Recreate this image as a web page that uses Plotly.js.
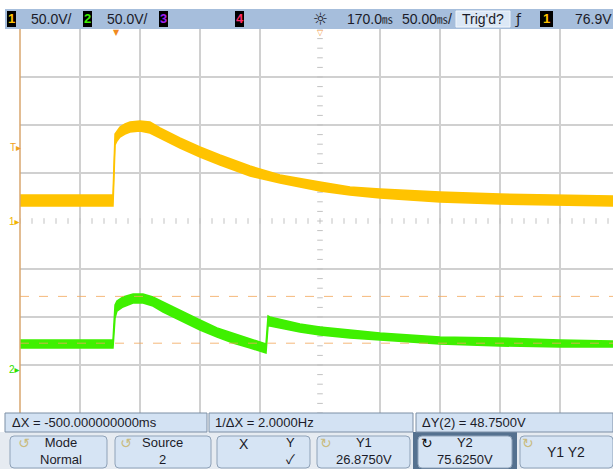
<!DOCTYPE html>
<html><head><meta charset="utf-8">
<script src="https://cdn.plot.ly/plotly-3.0.1.min.js"></script>
<style>html,body{margin:0;padding:0;background:#fff;overflow:hidden}#chart{width:613px;height:469px}</style>
</head><body><div id="chart"></div>
<script>
// ---- Data (time in ms, voltage in V) ----
// Channel 1 (yellow): noisy band, upper and lower envelope
const ch1Time = [-80, -2.5, -0.8, 0.8, 3.3, 7.5, 11.7, 20, 28.3, 36.7, 45, 53.3, 70, 86.7, 111.7, 136.7, 170, 195, 220, 270, 320, 370, 415];
const ch1Max  = [27.1, 27.1, 90.6, 93.8, 97.9, 101.0, 103.1, 104.2, 103.1, 96.9, 91.7, 86.5, 77.1, 68.8, 57.3, 47.9, 40.6, 35.4, 33.3, 30.2, 28.1, 27.1, 26.0];
const ch1Min  = [15.6, 15.6, 79.2, 83.3, 87.5, 90.6, 92.7, 93.8, 91.7, 86.5, 81.3, 76.0, 66.7, 58.3, 46.9, 39.6, 31.3, 27.1, 24.0, 19.8, 17.7, 16.7, 15.6];
// Channel 2 (green)
const ch2Time = [-80, -2.5, -0.8, 0.8, 5.8, 14.2, 22.5, 30.8, 39.2, 55.8, 70, 84.2, 97.5, 111.7, 125, 126.7, 128.3, 153.3, 170, 195, 220, 270, 320, 370, 415];
const ch2Max  = [30.2, 30.2, 66.7, 70.8, 75.0, 78.1, 78.1, 75.0, 69.8, 59.4, 51.0, 42.7, 37.5, 31.3, 26.0, 55.2, 54.2, 46.9, 43.8, 40.6, 37.5, 33.3, 32.3, 30.2, 29.2];
const ch2Min  = [21.9, 21.9, 53.1, 60.4, 64.6, 68.8, 68.8, 65.6, 59.4, 49.0, 40.6, 33.3, 27.1, 21.9, 16.7, 44.8, 44.8, 38.5, 35.4, 32.3, 30.2, 26.0, 24.0, 22.9, 22.9];
// Cursors on channel 2 and trigger level on channel 1
const cursorY1 = 26.875, cursorY2 = 75.625, trigLevel = 76.9;
// Scope settings
const voltsPerDiv = 50, timePerDiv = 50, delayMs = 170;
// Texts
const MS = '<span style="font-size:11px">㎳</span>';
const headerTexts = ["50.0V/", "50.0V/", "170.0" + MS, "50.00" + MS + "/", "Trig'd?", "76.9V"];
const readouts = ["ΔX = -500.000000000ms", "1/ΔX = 2.0000Hz", "ΔY(2) = 48.7500V"];
const softkeys = [["Mode", "Normal"], ["Source", "2"], ["X", "Y", "✓"], ["Y1", "26.8750V"], ["Y2", "75.6250V"], ["Y1 Y2"]];

// ---- Geometry (pixels) ----
const W = 613, H = 469, L = 20, T = 29, PW = 593, PH = 384;
const divX = 60, divY = 48, gnd2 = 369;
function X(px) { return (px - L) / PW; }
function Y(py) { return (T + PH - py) / PH; }
const xMin = delayMs - 5 * timePerDiv;
const xMax = xMin + PW / divX * timePerDiv;
const y1Top = (PH / 2) / divY * voltsPerDiv;
const y2Top = (gnd2 - T) / divY * voltsPerDiv, y2Bot = -(T + PH - gnd2) / divY * voltsPerDiv;

const yellow = '#ffc300', green = '#3ff000', orange = '#f2a85a';
const FONT = 'Liberation Sans, Noto Sans CJK JP, DejaVu Sans, sans-serif';

const gridX = []; for (let k = 1; k <= 9; k++) { const t = xMin + k * timePerDiv; if (t !== delayMs) gridX.push(t); }
const gridY = []; for (let k = -3; k <= 3; k++) { if (k !== 0) gridY.push(k * voltsPerDiv); }
// center-axis tick marks (5 per division)
const tickHx = [], tickHy = [], tickVx = [], tickVy = [];
for (let k = 0; k <= 50; k++) { tickHx.push(xMin + k * timePerDiv / 5); tickHy.push(0); }
for (let k = 0; k <= 40; k++) { tickVx.push(delayMs); tickVy.push(-y1Top + k * voltsPerDiv / 5); }

const traces = [
  {x: tickHx, y: tickHy, mode: 'markers', marker: {symbol: 'line-ns', size: 4, line: {width: 1, color: '#c2c2c2'}}, hoverinfo: 'skip', showlegend: false},
  {x: tickVx, y: tickVy, mode: 'markers', marker: {symbol: 'line-ew', size: 4, line: {width: 1, color: '#c2c2c2'}}, hoverinfo: 'skip', showlegend: false},
  {x: ch1Time, y: ch1Min, mode: 'lines', line: {color: yellow, width: 1.5}, showlegend: false},
  {x: ch1Time, y: ch1Max, mode: 'lines', line: {color: yellow, width: 1.5}, fill: 'tonexty', fillcolor: yellow, showlegend: false},
  {x: ch2Time, y: ch2Min, yaxis: 'y2', mode: 'lines', line: {color: green, width: 1.5}, showlegend: false},
  {x: ch2Time, y: ch2Max, yaxis: 'y2', mode: 'lines', line: {color: green, width: 1.5}, fill: 'tonexty', fillcolor: green, showlegend: false},
  {x: [xMin, xMax], y: [cursorY1, cursorY1], yaxis: 'y2', mode: 'lines', line: {color: orange, width: 1, dash: '9px,10px'}, opacity: 0.8, showlegend: false},
  {x: [xMin, xMax], y: [cursorY2, cursorY2], yaxis: 'y2', mode: 'lines', line: {color: orange, width: 1, dash: '9px,10px'}, opacity: 0.8, showlegend: false}
];

function rr(x0, y0, x1, y1, r) {
  const a = X(x0), b = X(x1), c = Y(y0), d = Y(y1), rx = r / PW, ry = r / PH;
  return `M${a+rx},${c} L${b-rx},${c} Q${b},${c} ${b},${c-ry} L${b},${d+ry} Q${b},${d} ${b-rx},${d} L${a+rx},${d} Q${a},${d} ${a},${d+ry} L${a},${c-ry} Q${a},${c} ${a+rx},${c} Z`;
}
function rect(x0, y0, x1, y1, fill, line, lw) {
  return {type: 'rect', xref: 'paper', yref: 'paper', x0: X(x0), x1: X(x1), y0: Y(y1), y1: Y(y0), fillcolor: fill, line: {color: line || fill, width: lw || 0}};
}
function rpath(x0, y0, x1, y1, r, fill, line) {
  return {type: 'path', xref: 'paper', yref: 'paper', path: rr(x0, y0, x1, y1, r), fillcolor: fill, line: {color: line, width: 1}};
}
function txt(text, x, y, size, color, anchor, extra) {
  return Object.assign({text: text, xref: 'paper', yref: 'paper', x: X(x), y: Y(y), xanchor: anchor || 'left', yanchor: 'middle', showarrow: false, font: {family: FONT, size: size, color: color}}, extra || {});
}
function boldTxt(text, x, y, color) {
  return txt(text, x, y, 13, color, 'center', {font: {family: FONT, size: 13, color: color, weight: 'bold'}});
}
function icon(ch, x, y, color) {
  return txt(ch, x, y, 14, color, 'center', {font: {family: 'DejaVu Sans', size: 14, color: color}});
}

const shapes = [
  // left border of graticule
  {type: 'line', xref: 'paper', yref: 'paper', x0: X(20), x1: X(20), y0: 0, y1: 1, line: {color: '#d9a66e', width: 1.5}},
  // header bar
  rect(5, 9, 613, 29, '#a6bedc'),
  rect(7, 11, 16, 27, '#000'), rect(83, 11, 92, 27, '#000'), rect(159, 11, 168, 27, '#000'), rect(235, 11, 244, 27, '#000'),
  rect(456, 11, 510, 27, '#dce8f6', '#f2f6fb', 1),
  rect(540, 11, 553, 27, '#000'),
  // softkey area background
  rect(0, 432, 613, 469, '#e6ebf1'),
  rect(413, 432, 517, 469, '#55718f'),
  // readout row
  rect(5, 413, 207, 432, '#d3e2f3', '#7d8fa5', 1),
  rect(209, 413, 413, 432, '#d3e2f3', '#7d8fa5', 1),
  rect(416, 413, 613, 432, '#d3e2f3', '#7d8fa5', 1),
  // softkeys
  rpath(10, 436, 107, 468, 4, '#d6e4f4', '#8fa2b8'),
  rpath(115, 436, 211, 468, 4, '#d6e4f4', '#8fa2b8'),
  rpath(217, 436, 310, 468, 4, '#d6e4f4', '#8fa2b8'),
  rpath(317, 436, 410, 468, 4, '#d6e4f4', '#8fa2b8'),
  rpath(418, 436, 512, 468, 4, '#d6e4f4', '#8fa2b8'),
  rpath(520, 436, 613, 468, 4, '#d6e4f4', '#8fa2b8')
];

const dark = '#1b1b28';
const annotations = [
  // header
  boldTxt('1', 11.5, 19, yellow),
  txt(headerTexts[0], 29, 19, 14, dark),
  boldTxt('2', 87.5, 19, green),
  txt(headerTexts[1], 105, 19, 14, dark),
  boldTxt('3', 163.5, 19, '#a020f0'),
  boldTxt('4', 239.5, 19, '#ff2a6a'),
  txt('☼', 320, 19, 17, dark, 'center', {font: {family: 'DejaVu Sans', size: 17, color: dark}}),
  txt(headerTexts[2], 345, 19, 14, dark),
  txt(headerTexts[3], 400, 19, 14, dark),
  txt(headerTexts[4], 483, 19, 14, dark, 'center'),
  txt('ƒ', 518, 19, 14, dark, 'center', {font: {family: 'DejaVu Sans', size: 14, color: dark}}),
  boldTxt('1', 546.5, 19, yellow),
  txt(headerTexts[5], 573, 19, 14, dark),
  // trigger markers on top
  txt('▼', 116, 32, 8, '#f08a20', 'center', {font: {family: 'DejaVu Sans', size: 8, color: '#f08a20'}}),
  txt('▽', 320, 32, 8, '#f0a050', 'center', {font: {family: 'DejaVu Sans', size: 8, color: '#f0a050'}}),
  // left markers
  {text: 'T▸', xref: 'paper', yref: 'y', x: X(8), y: trigLevel, xanchor: 'left', yanchor: 'middle', showarrow: false, font: {family: FONT, size: 10, color: '#f0a020'}},
  {text: '1▸', xref: 'paper', yref: 'y', x: X(7), y: 0, xanchor: 'left', yanchor: 'middle', showarrow: false, font: {family: FONT, size: 10, color: '#f0b400'}},
  {text: '2▸', xref: 'paper', yref: 'y2', x: X(7), y: 0, xanchor: 'left', yanchor: 'middle', showarrow: false, font: {family: FONT, size: 10, color: '#30e000'}},
  // readouts
  txt(readouts[0], 10, 422.5, 13, dark),
  txt(readouts[1], 213, 422.5, 13, dark),
  txt(readouts[2], 420, 422.5, 13, dark),
  // softkey labels
  icon('↺', 24, 443, '#c9bb80'),
  txt(softkeys[0].join('<br>'), 61, 451, 13, dark, 'center'),
  icon('↺', 126, 443, '#c9bb80'),
  txt(softkeys[1].join('<br>'), 162, 451, 13, dark, 'center'),
  txt(softkeys[2][0], 244, 444, 14, dark, 'center'),
  txt(softkeys[2][1] + '<br>' + softkeys[2][2], 290, 451, 13, dark, 'center'),
  icon('↻', 326, 443, '#c9bb80'),
  txt(softkeys[3].join('<br>'), 364, 451, 13, dark, 'center'),
  icon('↻', 427, 443, '#111'),
  txt(softkeys[4].join('<br>'), 465, 451, 13, dark, 'center'),
  icon('↻', 528, 443, '#c9bb80'),
  txt(softkeys[5][0], 566, 452, 14, dark, 'center')
];

const layout = {
  width: W, height: H,
  margin: {l: L, r: W - L - PW, t: T, b: H - T - PH, pad: 0},
  paper_bgcolor: '#ffffff', plot_bgcolor: '#ffffff',
  showlegend: false,
  xaxis: {range: [xMin, xMax], tickvals: gridX, showticklabels: false, ticks: '', showgrid: true, gridcolor: '#d0d0d0', gridwidth: 1.5, zeroline: false, showline: false, fixedrange: true},
  yaxis: {range: [-y1Top, y1Top], tickvals: gridY, showticklabels: false, ticks: '', showgrid: true, gridcolor: '#d0d0d0', gridwidth: 1.5, zeroline: false, showline: false, fixedrange: true},
  yaxis2: {range: [y2Bot, y2Top], overlaying: 'y', showgrid: false, showticklabels: false, ticks: '', zeroline: false, showline: false, fixedrange: true},
  shapes: shapes,
  annotations: annotations
};

Plotly.newPlot('chart', traces, layout, {displayModeBar: false, staticPlot: true});
</script>
</body></html>
